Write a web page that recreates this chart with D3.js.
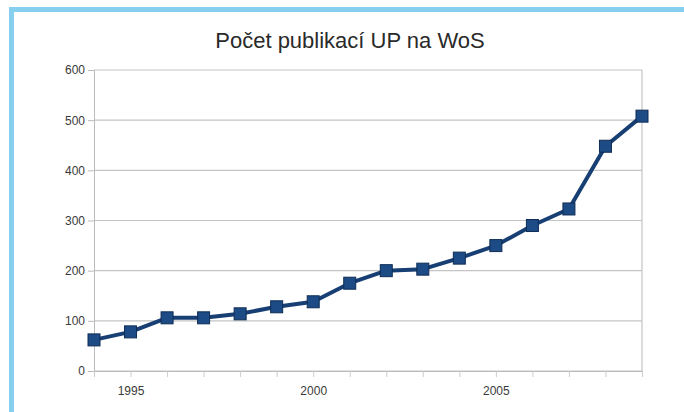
<!DOCTYPE html>
<html><head><meta charset="utf-8">
<script src="https://cdn.jsdelivr.net/npm/d3@7"></script>
<style>body{margin:0;background:#fff}svg{display:block}</style>
</head><body>
<svg id="c" width="684" height="412"></svg>
<script>
const years = [1994,1995,1996,1997,1998,1999,2000,2001,2002,2003,2004,2005,2006,2007,2008,2009];
const counts = [62,78,106,106,114,128,138,175,200,203,225,250,290,323,448,508];
const yTicks = [0,100,200,300,400,500,600];
const xLabels = [1995,2000,2005];
const title = "Počet publikací UP na WoS";

const svg = d3.select("#c");
const m = {l:94, r:642, t:70, b:371};
const x = d3.scaleLinear().domain([1994,2009]).range([m.l,m.r]);
const y = d3.scaleLinear().domain([0,600]).range([m.b,m.t]);

// blue frame
svg.append("rect").attr("x",9).attr("y",7).attr("width",675).attr("height",5).attr("fill","#87cfee");
svg.append("rect").attr("x",9).attr("y",7).attr("width",5).attr("height",405).attr("fill","#87cfee");

svg.append("text").attr("x",350).attr("y",48).attr("text-anchor","middle")
  .attr("font-family","Liberation Sans, Arial, sans-serif").attr("font-size",22).attr("fill","#2a2a2a")
  .text(title);

// grid
svg.append("g").selectAll("line").data(yTicks).join("line")
  .attr("x1",m.l).attr("x2",m.r).attr("y1",d=>y(d)).attr("y2",d=>y(d))
  .attr("stroke","#c4c4c4").attr("stroke-width",1.2);
svg.append("line").attr("x1",m.r).attr("x2",m.r).attr("y1",m.t).attr("y2",m.b).attr("stroke","#c4c4c4").attr("stroke-width",1.2);

// y axis
const ya = svg.append("g").attr("transform",`translate(${m.l},0)`)
  .call(d3.axisLeft(y).tickValues(yTicks).tickSize(6).tickPadding(3));
ya.select(".domain").attr("stroke","#bbb");
ya.selectAll("line").attr("stroke","#bbb");
ya.selectAll("text").attr("font-family","Liberation Sans, Arial, sans-serif").attr("font-size",12).attr("fill","#3a3a3a");

// x axis
const xa = svg.append("g").attr("transform",`translate(0,${m.b})`)
  .call(d3.axisBottom(x).tickValues(years).tickSize(6).tickPadding(9)
    .tickFormat(d=>xLabels.includes(d)?String(d):""));
xa.select(".domain").attr("stroke","#bbb");
xa.selectAll("line").attr("stroke","#ccc");
xa.selectAll("text").attr("font-family","Liberation Sans, Arial, sans-serif").attr("font-size",12).attr("fill","#3a3a3a");

// line
const data = years.map((yr,i)=>({yr,v:counts[i]}));
svg.append("path").datum(data)
  .attr("d",d3.line().x(d=>x(d.yr)).y(d=>y(d.v)))
  .attr("fill","none").attr("stroke","#173f73").attr("stroke-width",4).attr("stroke-linejoin","round");
svg.append("g").selectAll("rect").data(data).join("rect")
  .attr("x",d=>x(d.yr)-6).attr("y",d=>y(d.v)-6).attr("width",12).attr("height",12)
  .attr("fill","#1d4b85").attr("stroke","#0f2d55").attr("stroke-width",1);
</script>
</body></html>
